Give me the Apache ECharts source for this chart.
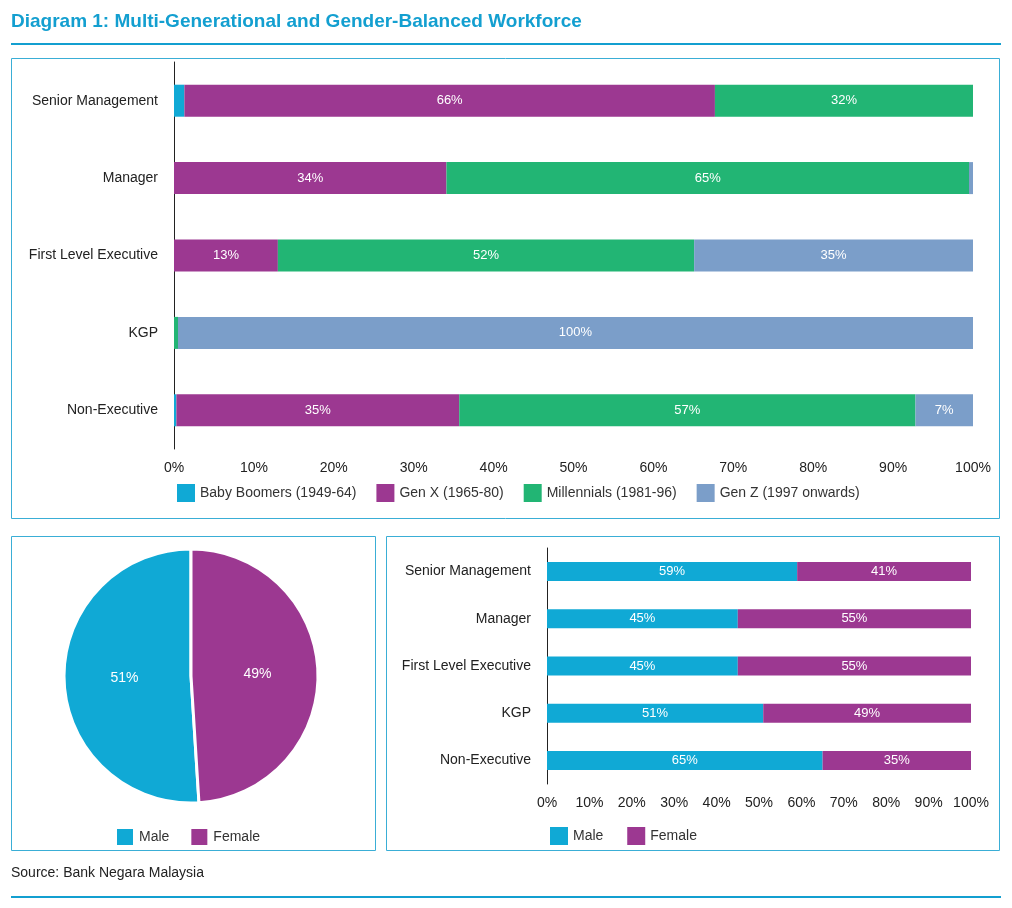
<!DOCTYPE html>
<html>
<head>
<meta charset="utf-8" />
<script src="https://cdn.jsdelivr.net/npm/echarts@6.0.0/dist/echarts.min.js"></script>
<style>
  html, body { margin: 0; padding: 0; background: #fff; }
  #chart { width: 1012px; height: 908px; }
</style>
</head>
<body>
<div id="chart"></div>
<script>
  // data
  const roles = ['Senior Management', 'Manager', 'First Level Executive', 'KGP', 'Non-Executive'];
  const genNames = ['Baby Boomers (1949-64)', 'Gen X (1965-80)', 'Millennials (1981-96)', 'Gen Z (1997 onwards)'];
  const babyBoomers = [1.3, 0, 0, 0, 0.3];
  const genX = [66.4, 34.1, 13.0, 0, 35.4];
  const millennials = [32.3, 65.4, 52.1, 0.5, 57.1];
  const genZ = [0, 0.5, 34.9, 99.5, 7.2];
  const male = [59, 45, 45, 51, 65];
  const female = [41, 55, 55, 49, 35];
  const pieMale = 51;
  const pieFemale = 49;

  const colors = ['#10a9d5', '#9c3891', '#22b574', '#7b9ec9'];
  const font = 'Liberation Sans, Arial, sans-serif';
  const chart = echarts.init(document.getElementById('chart'));

  const inLabel = {
    show: true, color: '#fff', fontSize: 13, fontFamily: font,
    formatter: p => p.value >= 5 ? Math.round(p.value) + '%' : ''
  };
  function catAxis(gridIndex) {
    return {
      type: 'category', gridIndex, data: roles, inverse: true,
      axisLine: { lineStyle: { color: '#222' } }, axisTick: { show: false },
      axisLabel: { color: '#222', fontSize: 14, fontFamily: font, fontWeight: 500, margin: 16 }
    };
  }
  function valAxis(gridIndex) {
    return {
      type: 'value', gridIndex, min: 0, max: 100, interval: 10,
      axisLine: { show: false }, axisTick: { show: false }, splitLine: { show: false },
      axisLabel: { color: '#222', fontSize: 14, fontFamily: font, formatter: '{value}%', margin: 12 }
    };
  }
  const genData = [babyBoomers, genX, millennials, genZ];

  chart.setOption({
    animation: false,
    color: colors,
    graphic: [
      { type: 'text', left: 11, top: 12, style: { text: 'Diagram 1: Multi-Generational and Gender-Balanced Workforce', fill: '#139fd0', font: 'bold 19px ' + font } },
      { type: 'rect', shape: { x: 11, y: 43, width: 990, height: 2 }, style: { fill: '#139fd0' } },
      { type: 'rect', shape: { x: 11.5, y: 58.5, width: 988, height: 460 }, style: { fill: 'none', stroke: '#3aaed6', lineWidth: 1 } },
      { type: 'rect', shape: { x: 11.5, y: 536.5, width: 364, height: 314 }, style: { fill: 'none', stroke: '#3aaed6', lineWidth: 1 } },
      { type: 'rect', shape: { x: 386.5, y: 536.5, width: 613, height: 314 }, style: { fill: 'none', stroke: '#3aaed6', lineWidth: 1 } },
      { type: 'text', left: 11, top: 866, style: { text: 'Source: Bank Negara Malaysia', fill: '#222', font: '14px ' + font } },
      { type: 'rect', shape: { x: 11, y: 896, width: 990, height: 2 }, style: { fill: '#139fd0' } }
    ],
    legend: [
      { data: genNames, top: 479, left: 172, itemWidth: 18, itemHeight: 18, itemGap: 20, icon: 'rect',
        textStyle: { fontSize: 14, color: '#333', fontFamily: font } },
      { data: ['Male', 'Female'], top: 822, left: 110, itemWidth: 18, itemHeight: 18, itemGap: 20, icon: 'rect',
        textStyle: { fontSize: 14, color: '#333', fontFamily: font } },
      { data: ['Male ', 'Female '], top: 822, left: 545, itemWidth: 18, itemHeight: 18, itemGap: 20, icon: 'rect',
        textStyle: { fontSize: 14, color: '#333', fontFamily: font } }
    ],
    grid: [
      { left: 174, right: 39, top: 62, height: 387 },
      { left: 547, right: 41, top: 548, height: 236 }
    ],
    xAxis: [valAxis(0), valAxis(1)],
    yAxis: [catAxis(0), catAxis(1)],
    series: [
      ...genNames.map((n, i) => ({
        type: 'bar', name: n, stack: 'gen', xAxisIndex: 0, yAxisIndex: 0, barWidth: 32,
        data: genData[i], label: inLabel, itemStyle: { color: colors[i] }
      })),
      { type: 'bar', name: 'Male ', stack: 'g', xAxisIndex: 1, yAxisIndex: 1, barWidth: 19,
        data: male, label: inLabel, itemStyle: { color: colors[0] } },
      { type: 'bar', name: 'Female ', stack: 'g', xAxisIndex: 1, yAxisIndex: 1, barWidth: 19,
        data: female, label: inLabel, itemStyle: { color: colors[1] } },
      { type: 'pie', center: [191, 676], radius: [0, 127], startAngle: 90, clockwise: false,
        label: { position: 'inside', color: '#fff', fontSize: 14, fontFamily: font, formatter: '{c}%' },
        labelLine: { show: false },
        itemStyle: { borderColor: '#fff', borderWidth: 3 },
        data: [
          { name: 'Male', value: pieMale, itemStyle: { color: colors[0] } },
          { name: 'Female', value: pieFemale, itemStyle: { color: colors[1] } }
        ] }
    ]
  });
</script>
</body>
</html>
